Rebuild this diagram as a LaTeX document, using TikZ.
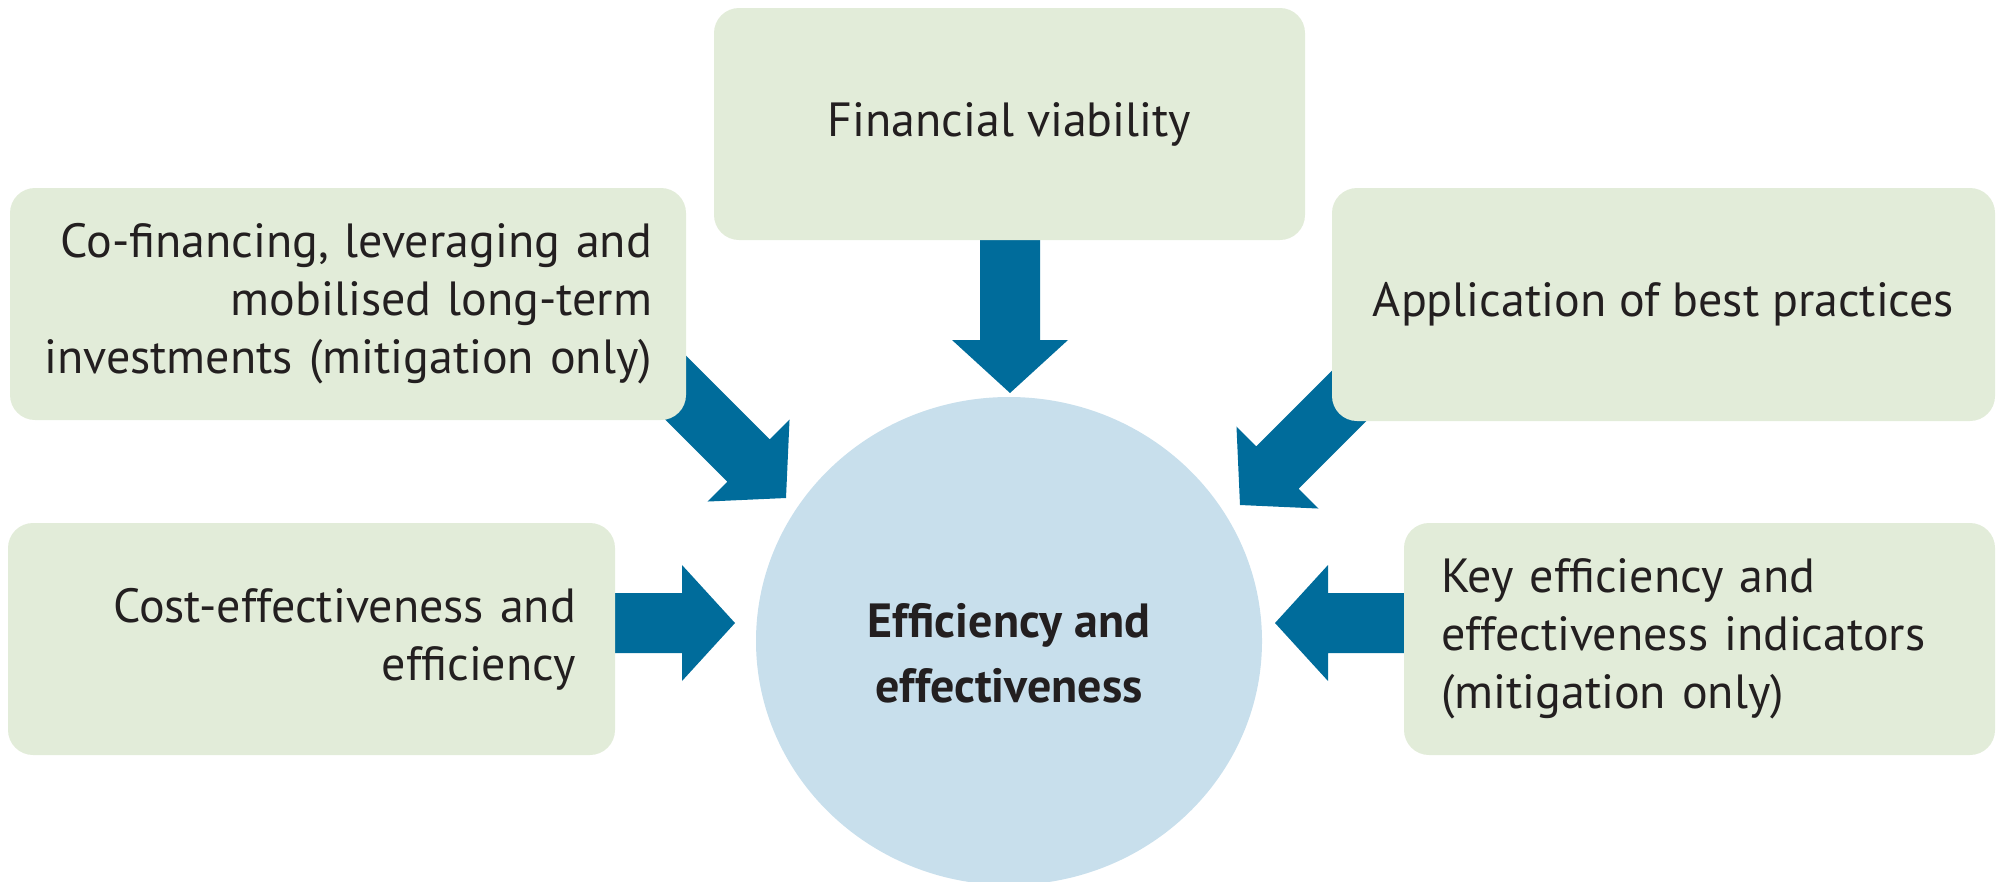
\documentclass[tikz,border=0pt]{standalone}
\usepackage{fontspec}
\setmainfont{PT Sans}
\usetikzlibrary{calc,shapes.geometric}
\definecolor{boxfill}{HTML}{E2ECD9}
\definecolor{circfill}{HTML}{C8DFEC}
\definecolor{arrowblue}{HTML}{006C9B}
\definecolor{txt}{HTML}{231F20}
\newcommand\blockarrow[2]{%
  \coordinate (hb) at ($(#2)!53pt!(#1)$);
  \fill[arrowblue] ($(#1)!30pt!90:(#2)$) -- ($(hb)!30pt!90:(#2)$) -- ($(hb)!58pt!90:(#2)$)
    -- (#2) -- ($(hb)!58pt!-90:(#2)$) -- ($(hb)!30pt!-90:(#2)$) -- ($(#1)!30pt!-90:(#2)$) -- cycle;}
\tikzset{
  infobox/.style={fill=boxfill, rounded corners=25pt, inner ysep=0pt, text=txt,
    font={\fontsize{48}{58}\selectfont}},
}
\begin{document}
\begin{tikzpicture}[x=1pt,y=-1pt]
\useasboundingbox (0,0) rectangle (1996,881);
\clip (0,0) rectangle (1996,881);
% centre
\node[ellipse, fill=circfill, minimum width=506pt, minimum height=488pt, inner sep=0pt] (core) at (1009,641) {};
\node[text=txt, align=center, font={\bfseries\fontsize{48}{65}\selectfont}] (coretext) at (1009,653) {Efficiency and\\effectiveness};
% arrow endpoints
\coordinate (finS) at (1010,200);  \coordinate (finT) at (1010,393);
\coordinate (cofS) at (586,298);   \coordinate (cofT) at (786,498);
\coordinate (appS) at (1440,305);  \coordinate (appT) at (1240,505);
\coordinate (costS) at (580,623);  \coordinate (costT) at (735,623);
\coordinate (keyS) at (1440,623);  \coordinate (keyT) at (1275,623);
\blockarrow{finS}{finT}
\blockarrow{cofS}{cofT}
\blockarrow{appS}{appT}
\blockarrow{costS}{costT}
\blockarrow{keyS}{keyT}
% boxes
\node[infobox, minimum width=591pt, minimum height=232pt, align=center] (fin) at (1009.5,124) {Financial viability};
\node[infobox, minimum height=232pt, text width=608pt, inner xsep=34pt, align=right] (cof) at (348,304) {Co-financing, leveraging and\\mobilised long-term\\investments (mitigation only)};
\node[infobox, minimum width=663pt, minimum height=233pt, align=center] (app) at (1663.5,304.5) {Application of best practices};
\node[infobox, minimum height=232pt, text width=529pt, inner xsep=39pt, align=right] (cost) at (311.5,639) {Cost-effectiveness and\\efficiency};
\node[infobox, minimum height=232pt, text width=517pt, inner xsep=37pt, align=left] (key) at (1699.5,639) {Key efficiency and\\effectiveness indicators\\(mitigation only)};
\end{tikzpicture}
\end{document}
